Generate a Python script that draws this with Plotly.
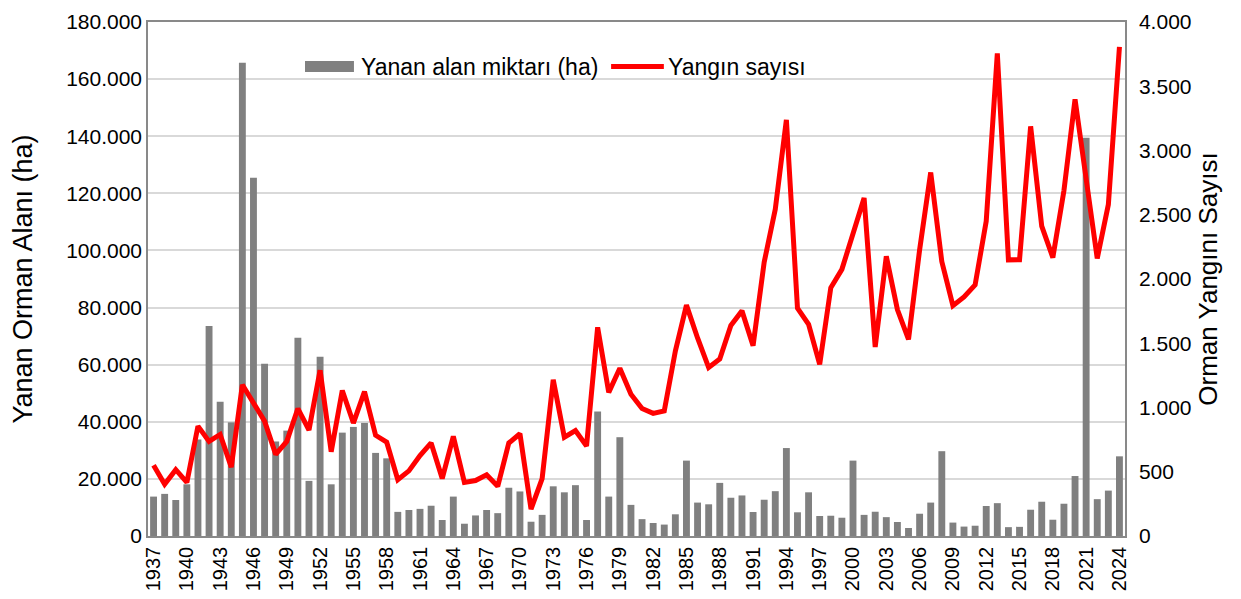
import plotly.graph_objects as go

years = list(range(1937, 2025))

burned_area_ha = [
    13800, 14750, 12600, 18100, 33800, 73500, 47000, 39800, 165700, 125500,
    60300, 33100, 36900, 69400, 19300, 62800, 18100, 36200, 38200, 39600,
    29100, 27200, 8450, 9100, 9500, 10600, 5600, 13800, 4300, 7200,
    9100, 8000, 16900, 15600, 5000, 7400, 17400, 15300, 17800, 5600,
    43600, 13800, 34600, 10900, 5900, 4560, 4000, 7600, 26400, 11700,
    11100, 18600, 13400, 14200, 8400, 12700, 15700, 30800, 8300, 15300,
    7000, 7100, 6400, 26400, 7400, 8500, 6600, 4900, 2800, 7800,
    11700, 29700, 4700, 3300, 3600, 10500, 11500, 3100, 3200, 9200,
    12000, 5700, 11300, 21000, 139500, 12900, 15900, 27900,
]

fire_count = [
    551, 402, 516, 417, 855, 736, 790, 536, 1177, 1034,
    894, 635, 736, 992, 825, 1290, 656, 1132, 879, 1123,
    784, 730, 438, 507, 626, 724, 447, 775, 417, 432,
    477, 387, 724, 796, 209, 447, 1216, 769, 820, 700,
    1624, 1118, 1305, 1103, 992, 954, 974, 1439, 1797, 1541,
    1311, 1377, 1639, 1752, 1481, 2131, 2542, 3239, 1773, 1648,
    1335, 1932, 2075, 2353, 2631, 1471, 2177, 1762, 1530, 2227,
    2829, 2135, 1793, 1861, 1954, 2450, 3755, 2149, 2150, 3188,
    2411, 2167, 2688, 3399, 2793, 2160, 2579, 3806,
]

tick_years = list(range(1937, 2025, 3))

bar_name = "Yanan alan miktarı (ha)"
line_name = "Yangın sayısı"
BAR_COLOR = "#808080"
LINE_COLOR = "#FF0000"
FONT = "Liberation Sans, Arial, sans-serif"

fig = go.Figure()
fig.add_trace(go.Bar(
    x=years, y=burned_area_ha, name=bar_name,
    marker=dict(color=BAR_COLOR, line=dict(width=0)), width=0.62,
))
fig.add_trace(go.Scatter(
    x=years, y=fire_count, name=line_name, yaxis="y2",
    mode="lines", line=dict(color=LINE_COLOR, width=5),
))

# manual legend (wide symbols like the reference)
leg_y = 0.9134
fig.add_shape(type="rect", xref="paper", yref="paper",
              x0=0.1607, x1=0.2108, y0=0.9027, y1=0.9241,
              fillcolor=BAR_COLOR, line=dict(width=0))
fig.add_annotation(text=bar_name, xref="paper", yref="paper", x=0.2160, y=leg_y,
                   xanchor="left", yanchor="middle", showarrow=False,
                   font=dict(size=23, family=FONT, color="#000000"))
fig.add_shape(type="line", xref="paper", yref="paper",
              x0=0.4740, x1=0.5280, y0=leg_y, y1=leg_y,
              line=dict(color=LINE_COLOR, width=5))
fig.add_annotation(text=line_name, xref="paper", yref="paper", x=0.5300, y=leg_y,
                   xanchor="left", yanchor="middle", showarrow=False,
                   font=dict(size=23, family=FONT, color="#000000"))

fig.update_layout(
    width=1241, height=599,
    margin=dict(l=140, r=124, t=14, b=71),
    paper_bgcolor="white", plot_bgcolor="white",
    separators=",.",
    font=dict(family=FONT, size=20, color="#000000"),
    showlegend=False,
    xaxis=dict(
        range=[1936.5, 2024.5], tickmode="array", tickvals=tick_years,
        ticktext=[str(y) for y in tick_years], tickangle=-90,
        showline=True, linecolor="#898989", linewidth=1.5, mirror=True,
        showgrid=False, ticks="", tickfont=dict(size=20),
        automargin=False, ticklabelstandoff=1,
    ),
    yaxis=dict(
        range=[0, 180000], dtick=20000, tickformat=",d",
        showline=True, linecolor="#898989", linewidth=1.5,
        gridcolor="#d9d9d9", gridwidth=1.5, zeroline=False,
        title=dict(text="Yanan Orman Alanı (ha)", font=dict(size=27), standoff=26),
        tickfont=dict(size=21), ticks="", automargin=False,
    ),
    yaxis2=dict(
        range=[0, 4000], dtick=500, tickformat=",d", overlaying="y", side="right",
        showline=True, linecolor="#898989", linewidth=1.5, showgrid=False, zeroline=False,
        title=dict(text="Orman Yangını Sayısı", font=dict(size=26), standoff=8),
        tickfont=dict(size=21), ticks="", automargin=False, ticklabelstandoff=8,
    ),
)

fig.write_html("out.html")
